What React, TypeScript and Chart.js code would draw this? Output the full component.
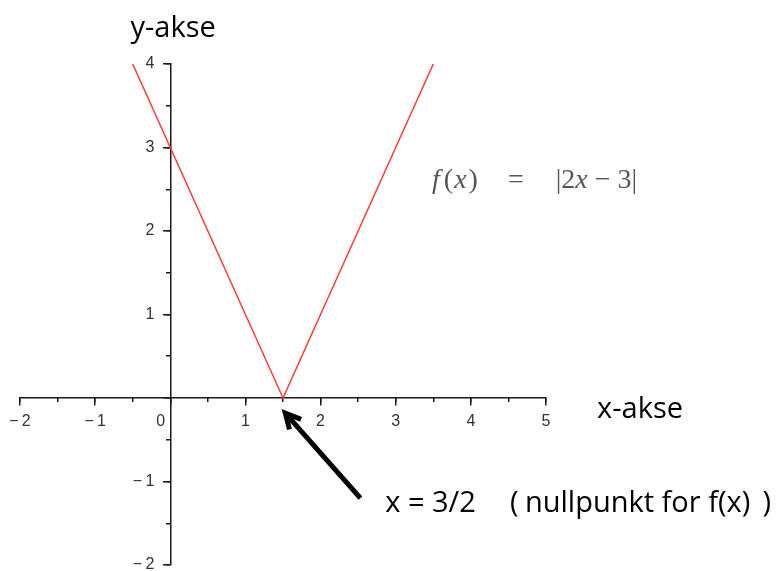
import React, { useEffect, useRef } from 'react';
import { Chart, registerables } from 'chart.js';

Chart.register(...registerables);

// f(x) = |2x - 3| sampled at its ends and at its zero
const curveX = [-0.5, 1.5, 3.5];
const curveY = [4, 0, 4];

// axis ranges and steps
const xRange = [-2, 5];
const yRange = [-2, 4];
const majorStep = 1;
const minorStep = 0.5;

// zero of f
const rootX = 1.5;

const tickFont = { family: 'Liberation Sans', size: 16 };
const axisColor = '#1a1a1a';
const noteFont = '29px "Open Sans"';

const fmt = (v: number) => (v < 0 ? '\u2212\u2009' + Math.abs(v) : String(v));

function drawRuns(ctx: CanvasRenderingContext2D, runs: { t: string; italic?: boolean; gap?: number }[], x: number, y: number, size: number) {
  let cx = x;
  for (const r of runs) {
    if (r.gap) {
      cx += r.gap;
      continue;
    }
    ctx.font = `${r.italic ? 'italic ' : ''}${size}px "Liberation Serif"`;
    ctx.fillText(r.t, cx, y);
    cx += ctx.measureText(r.t).width;
  }
}

const notesPlugin = {
  id: 'notes',
  afterDraw(chart: any) {
    const { ctx } = chart;
    const sx = chart.scales.x;
    const sy = chart.scales.y;
    const px = (v: number) => sx.getPixelForValue(v);
    const py = (v: number) => sy.getPixelForValue(v);
    ctx.save();
    ctx.textBaseline = 'alphabetic';
    ctx.textAlign = 'left';
    ctx.fillStyle = '#000';

    // axis names
    ctx.font = noteFont;
    ctx.fillText('y-akse', px(-0.53), py(4.32));
    ctx.fillText('x-akse', px(5.68), py(-0.24));

    // formula
    ctx.fillStyle = '#555';
    drawRuns(
      ctx,
      [
        { t: 'f', italic: true },
        { t: '', gap: 4 },
        { t: '(' },
        { t: '', gap: 1 },
        { t: 'x', italic: true },
        { t: '', gap: 2 },
        { t: ')' },
        { t: '', gap: 30 },
        { t: '=' },
        { t: '', gap: 32 },
        { t: '|2' },
        { t: 'x', italic: true },
        { t: ' \u2212 3|' },
      ],
      px(3.484),
      py(2.52),
      28
    );

    // note on the zero
    ctx.fillStyle = '#000';
    ctx.font = noteFont;
    const base = py(-1.36);
    ctx.fillText('x = 3/2', px(2.86), base);
    ctx.fillText('(', px(4.52), base);
    ctx.fillText('nullpunkt for f(x)', px(4.72), base);
    ctx.fillText(')', px(7.88), base);

    // arrow pointing at the zero
    const x0 = px(2.53);
    const y0 = py(-1.2);
    const x1 = px(rootX + 0.03);
    const y1 = py(-0.18);
    const ang = Math.atan2(y1 - y0, x1 - x0);
    ctx.strokeStyle = '#000';
    ctx.lineWidth = 5;
    ctx.lineCap = 'butt';
    ctx.lineJoin = 'miter';
    ctx.beginPath();
    ctx.moveTo(x0, y0);
    ctx.lineTo(x1 - 4 * Math.cos(ang), y1 - 4 * Math.sin(ang));
    ctx.stroke();
    const head = 17;
    const spread = 0.47;
    ctx.beginPath();
    ctx.moveTo(x1 - head * Math.cos(ang - spread), y1 - head * Math.sin(ang - spread));
    ctx.lineTo(x1, y1);
    ctx.lineTo(x1 - head * Math.cos(ang + spread), y1 - head * Math.sin(ang + spread));
    ctx.stroke();
    ctx.restore();
  },
};

export default function App() {
  const ref = useRef<HTMLCanvasElement | null>(null);

  useEffect(() => {
    if (!ref.current) return;
    const points = curveX.map((x, i) => ({ x, y: curveY[i] }));
    const chart = new Chart(ref.current, {
      type: 'scatter',
      data: {
        datasets: [
          {
            data: points,
            showLine: true,
            borderColor: '#ff3a3a',
            borderWidth: 1.5,
            pointRadius: 0,
            pointHoverRadius: 0,
          },
        ],
      },
      options: {
        animation: false,
        responsive: false,
        events: [],
        layout: { padding: { left: 20, right: 230, top: 64, bottom: 35 } },
        plugins: { legend: { display: false }, tooltip: { enabled: false } },
        scales: {
          x: {
            type: 'linear',
            min: xRange[0],
            max: xRange[1],
            position: { y: 0 },
            border: { display: true, color: axisColor, width: 1.5 },
            grid: { drawOnChartArea: false, drawTicks: true, tickLength: 7, color: axisColor, lineWidth: 1.5 },
            ticks: {
              stepSize: majorStep,
              padding: 7,
              color: '#333',
              font: tickFont,
              maxRotation: 0,
              autoSkip: false,
              callback: (v: any) => (Number(v) === 0 ? '0\u2003\u2009' : fmt(Number(v))),
            },
          },
          y: {
            type: 'linear',
            min: yRange[0],
            max: yRange[1],
            position: { x: 0 },
            border: { display: true, color: axisColor, width: 1.5 },
            grid: { drawOnChartArea: false, drawTicks: true, tickLength: 7, color: axisColor, lineWidth: 1.5 },
            ticks: {
              stepSize: majorStep,
              color: '#333',
              font: tickFont,
              autoSkip: false,
              // labels sit left of the axis, clear of the tick marks
              callback: (v: any) => (Number(v) === 0 ? '' : fmt(Number(v)) + '\u2002\u2002'),
            },
          },
          xMinor: {
            type: 'linear',
            axis: 'x',
            min: xRange[0],
            max: xRange[1],
            position: { y: 0 },
            border: { display: false },
            grid: { drawOnChartArea: false, drawTicks: true, tickLength: 4, color: axisColor, lineWidth: 1.5 },
            ticks: { stepSize: minorStep, display: false, autoSkip: false },
          },
          yMinor: {
            type: 'linear',
            axis: 'y',
            min: yRange[0],
            max: yRange[1],
            position: { x: 0 },
            border: { display: false },
            grid: { drawOnChartArea: false, drawTicks: true, tickLength: 4, color: axisColor, lineWidth: 1.5 },
            ticks: { stepSize: minorStep, display: false, autoSkip: false },
          },
        },
      },
      plugins: [notesPlugin],
    } as any);
    return () => chart.destroy();
  }, []);

  return (
    <div style={{ position: 'fixed', left: 0, top: 0, width: 776, height: 571, overflow: 'hidden', background: '#fff' }}>
      <canvas ref={ref} width={776} height={600} style={{ display: 'block' }} />
    </div>
  );
}
